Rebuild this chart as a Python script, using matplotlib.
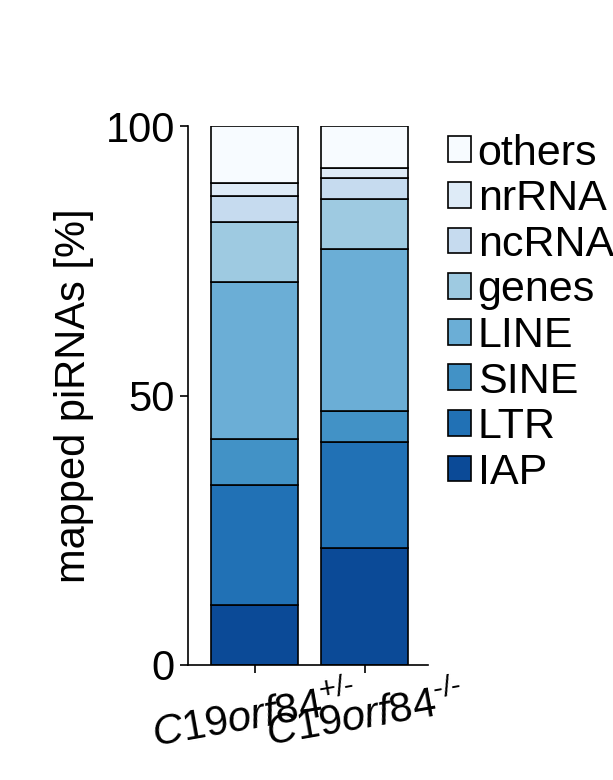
import matplotlib
matplotlib.use("Agg")
import matplotlib.pyplot as plt
import numpy as np

plt.rcParams['font.family'] = 'Liberation Sans'
plt.rcParams['mathtext.fontset'] = 'custom'
plt.rcParams['mathtext.it'] = 'Liberation Sans:italic'
plt.rcParams['mathtext.rm'] = 'Liberation Sans'
samples = [r"$\mathit{C19orf84}^{+/\text{-}}$", r"$\mathit{C19orf84}^{\text{-}/\text{-}}$"]
categories = ["IAP", "LTR", "SINE", "LINE", "genes", "ncRNA", "nrRNA", "others"]
het = [11.1, 22.3, 8.5, 29.2, 11.1, 4.8, 2.4, 10.6]
ko = [21.7, 19.7, 5.7, 30.1, 9.3, 3.9, 1.8, 7.8]
colors = ["#0b4a97", "#2171b5", "#4292c6", "#6baed6", "#9ecae1", "#c6dbef", "#deebf7", "#f7fbff"]

fig = plt.figure(figsize=(6.13, 7.8), dpi=100)
ax = fig.add_axes([188/613, 1-665/780, 240/613, 539/780])
x = np.arange(2)
bottom = np.zeros(2)
handles = []
for i, c in enumerate(categories):
    vals = np.array([het[i], ko[i]])
    h = ax.bar(x, vals, 0.79, bottom=bottom, color=colors[i], edgecolor='black', linewidth=1.2, label=c)
    handles.append(h)
    bottom += vals
ax.set_xlim(-0.605, 1.577)
ax.set_ylim(0, 100)
ax.set_yticks([0, 50, 100])
ax.tick_params(axis='y', labelsize=30, width=1.2, length=6)
ax.tick_params(axis='x', labelsize=30, width=1.2, length=6)
ax.set_xticks(x)
ax.set_xticklabels(samples, rotation=10, ha='center')
ax.set_ylabel("mapped piRNAs [%]", fontsize=30, labelpad=8)
for s in ['top', 'right']:
    ax.spines[s].set_visible(False)
for s in ['left', 'bottom']:
    ax.spines[s].set_linewidth(1.2)
fig.legend(handles[::-1], categories[::-1], loc='upper left', bbox_to_anchor=(426/613, 1-112/780),
           frameon=False, fontsize=31, handlelength=0.55, handleheight=0.55, handletextpad=0.15,
           labelspacing=0.13, borderpad=0)
fig.savefig("out.png", dpi=100)
